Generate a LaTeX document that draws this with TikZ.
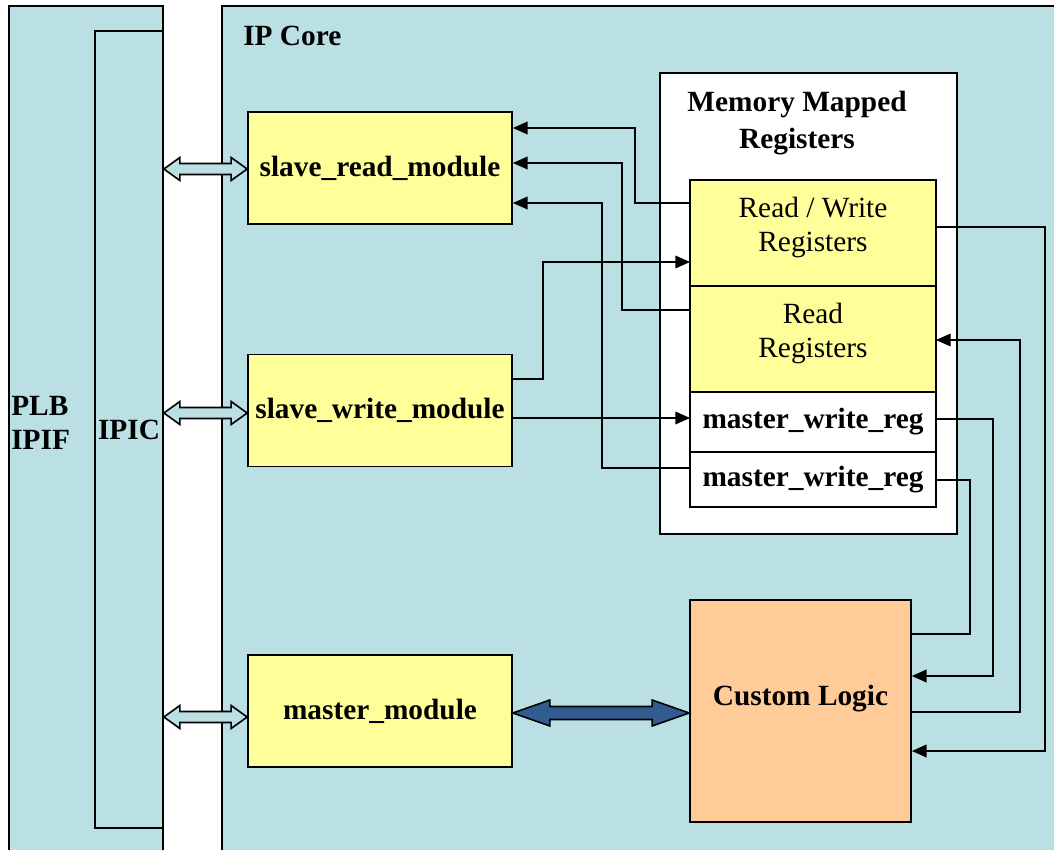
\documentclass[tikz,border=0pt]{standalone}
\usepackage{fontspec}
\setmainfont{Liberation Serif}
\usetikzlibrary{arrows.meta,positioning,calc}
\definecolor{corecyan}{RGB}{187,224,227}
\definecolor{modyellow}{RGB}{255,255,153}
\definecolor{logicorange}{RGB}{255,204,153}
\definecolor{busblue}{RGB}{50,92,143}
\tikzset{
  box/.style     = {draw, line width=1.3pt, fill=corecyan},
  modblk/.style  = {draw, line width=1.3pt, fill=modyellow, font=\bfseries,
                    minimum width=198pt, minimum height=84pt, inner sep=0pt},
  regblk/.style  = {draw, line width=1.3pt, fill=modyellow, align=center,
                    minimum width=184.5pt, inner sep=0pt, outer sep=0pt},
  wregblk/.style = {regblk, fill=white, font=\bfseries},
  lbl/.style     = {font=\bfseries, align=left, inner sep=0pt},
  conn/.style    = {line width=1pt},
  connar/.style  = {conn, -{Triangle[length=11pt,width=9.5pt]}},
  busar/.style   = {draw, line width=1.2pt, fill=corecyan, line join=miter},
  mainbus/.style = {busar, fill=busblue}
}
% hollow double arrow between two points: from, to, half shaft, half head, head length, style
\newcommand{\busarrow}[6]{%
  \draw[#6] (#1) -- ($(#1)+(#5,-#4)$) -- ($(#1)+(#5,-#3)$) -- ($(#2)+(-#5,-#3)$)
    -- ($(#2)+(-#5,-#4)$) -- (#2) -- ($(#2)+(-#5,#4)$) -- ($(#2)+(-#5,#3)$)
    -- ($(#1)+(#5,#3)$) -- ($(#1)+(#5,#4)$) -- cycle;}
% lift text inside its box, keeping the box centred
\newcommand{\lift}[2]{\raisebox{#1}[\height][\depth]{#2}}
\newcommand{\twoline}[2]{\lift{4pt}{\begin{tabular}{@{}c@{}}#1\\#2\end{tabular}}}
\begin{document}
\begin{tikzpicture}[x=0.75pt, y=-0.75pt]
\fontsize{22pt}{26pt}\selectfont
\useasboundingbox (0,0) rectangle (1054,850);
\clip (0,0) rectangle (1054,850);

% ---- outer frames ----
\draw[box] (9,6) rectangle (163,900);
\node[box, minimum width=51pt, minimum height=597.75pt, inner sep=0pt, font=\bfseries]
  (ipic) at (129,429.5) {IPIC};
\node[lbl, anchor=west] (plb) at (11,423) {PLB\\IPIF};
\draw[box] (222,6) rectangle (1100,900);
\node[lbl, anchor=west] (core) at (243,36) {IP Core};

% ---- memory mapped registers ----
\draw[line width=1.3pt, fill=white] (660,73) rectangle (957,534);
\node[font=\bfseries, align=center, inner sep=0pt] (mmr) at (797,123)
  {Memory Mapped\\[2pt]Registers};
\node[regblk, minimum height=79.5pt] (rw) at (813,233) {\twoline{Read / Write}{Registers}};
\node[regblk, minimum height=79.5pt, below=0pt of rw] (rr) {\twoline{Read}{Registers}};
\node[wregblk, minimum height=45pt, below=0pt of rr] (mwr1) {master\_write\_reg};
\node[wregblk, minimum height=41.25pt, below=0pt of mwr1] (mwr2) {master\_write\_reg};

% ---- modules ----
\node[modblk] (srm) at (380,168) {slave\_read\_module};
\node[modblk] (swm) at (380,410.5) {slave\_write\_module};
\node[modblk] (mm) at (380,711) {master\_module};
\node[modblk, fill=logicorange, minimum width=165.75pt, minimum height=166.5pt]
  (cl) at (800.5,711) {\lift{9pt}{Custom Logic}};

% ---- bus arrows ----
\coordinate (busL1) at (ipic.east |- 0,169);
\coordinate (busR1) at (srm.west |- 0,169);
\coordinate (busL2) at (ipic.east |- 0,413);
\coordinate (busR2) at (swm.west |- 0,413);
\coordinate (busL3) at (ipic.east |- 0,717);
\coordinate (busR3) at (mm.west |- 0,717);
\busarrow{busL1}{busR1}{5.5}{11.5}{16}{busar}
\busarrow{busL2}{busR2}{5.5}{11.5}{16}{busar}
\busarrow{busL3}{busR3}{5.5}{11.5}{16}{busar}
\busarrow{mm.east |- 0,713}{cl.west |- 0,713}{6.5}{13}{37}{mainbus}

% ---- register connections ----
\draw[connar] (rw.west |- 0,203) -| (635,128) -- (srm.east |- 0,128);
\draw[connar] (rr.west |- 0,310) -| (622,163) -- (srm.east |- 0,163);
\draw[connar] (mwr2.west |- 0,468) -| (602,203) -- (srm.east |- 0,203);
\draw[connar] (swm.east |- 0,379) -| (543,262) -- (rw.west |- 0,262);
\draw[connar] (swm.east |- 0,418) -- (mwr1.west |- 0,418);
\draw[connar] (rw.east |- 0,227) -| (1045,751) -- (cl.east |- 0,751);
\draw[connar] (cl.east |- 0,712) -| (1020,340) -- (rr.east |- 0,340);
\draw[connar] (mwr1.east |- 0,419) -| (993,676) -- (cl.east |- 0,676);
\draw[conn] (mwr2.east |- 0,480) -| (970,634) -- (cl.east |- 0,634);
\end{tikzpicture}
\end{document}
